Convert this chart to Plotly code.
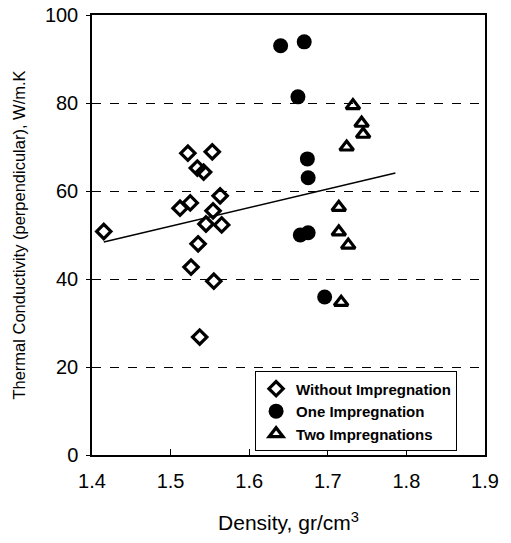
import plotly.graph_objects as go

# Without impregnation
x_without = [1.415, 1.522, 1.553, 1.534, 1.542, 1.563, 1.512, 1.525, 1.554, 1.545, 1.565, 1.535, 1.526, 1.555, 1.537]
y_without = [50.8, 68.6, 68.9, 65.2, 64.3, 58.9, 56.1, 57.3, 55.5, 52.5, 52.3, 48.0, 42.7, 39.5, 26.8]

# One impregnation
x_one = [1.640, 1.670, 1.662, 1.674, 1.675, 1.665, 1.675, 1.696]
y_one = [93.0, 93.9, 81.4, 67.3, 63.0, 50.0, 50.5, 35.9]

# Two impregnations
x_two = [1.732, 1.743, 1.745, 1.724, 1.714, 1.714, 1.726, 1.717]
y_two = [79.4, 75.4, 72.9, 70.0, 56.3, 50.7, 47.7, 34.7]

# Trend line
trend_x = [1.415, 1.786]
trend_y = [48.4, 64.1]

x_ticks = [1.4, 1.5, 1.6, 1.7, 1.8, 1.9]
y_ticks = [0, 20, 40, 60, 80, 100]

fig = go.Figure()

fig.add_trace(go.Scatter(
    x=trend_x, y=trend_y, mode="lines",
    line=dict(color="black", width=1.5), showlegend=False, hoverinfo="skip"))

fig.add_trace(go.Scatter(
    x=x_without, y=y_without, mode="markers", name="Without Impregnation",
    marker=dict(symbol="diamond-open", size=11, color="black", line=dict(width=3.2, color="black"))))

fig.add_trace(go.Scatter(
    x=x_one, y=y_one, mode="markers", name="One Impregnation",
    marker=dict(symbol="circle", size=15, color="black")))

fig.add_trace(go.Scatter(
    x=x_two, y=y_two, mode="markers", name="Two Impregnations",
    marker=dict(symbol="triangle-up-open", size=12, color="black", line=dict(width=3.2, color="black"))))

font_family = "Liberation Sans, Arial, sans-serif"

fig.update_layout(
    width=511, height=543,
    margin=dict(l=92, r=26, t=15, b=88, autoexpand=False),
    paper_bgcolor="white", plot_bgcolor="white",
    font=dict(family=font_family, color="black"),
    legend=dict(
        x=0.415, y=0.19, xanchor="left", yanchor="top",
        bgcolor="white", bordercolor="black", borderwidth=1,
        font=dict(size=15, weight=700, color="black"),
        itemwidth=30, tracegroupgap=0,
    ),
    xaxis=dict(
        range=[1.4, 1.9], tickvals=x_ticks, ticktext=[f"{v:.1f}" for v in x_ticks],
        showgrid=False, zeroline=False, automargin=False,
        showline=True, linecolor="black", linewidth=1.5, mirror=True,
        ticks="inside", ticklen=6, tickcolor="black",
        tickfont=dict(size=20), ticklabelstandoff=7,
        title=dict(text="Density, gr/cm<sup>3</sup>", font=dict(size=21), standoff=25),
    ),
    yaxis=dict(
        range=[0, 100], tickvals=y_ticks,
        showgrid=True, gridcolor="black", gridwidth=1, griddash="dash",
        zeroline=False, automargin=False,
        showline=True, linecolor="black", linewidth=1.5, mirror=True,
        ticks="outside", ticklen=4, tickcolor="black",
        tickfont=dict(size=20), ticklabelstandoff=4,
        title=dict(text="Thermal Conductivity (perpendicular), W/m.K", font=dict(size=16.5), standoff=15),
    ),
)

fig.write_html("out.html", config={"displayModeBar": False},
               post_script="document.body.style.margin='0';")
